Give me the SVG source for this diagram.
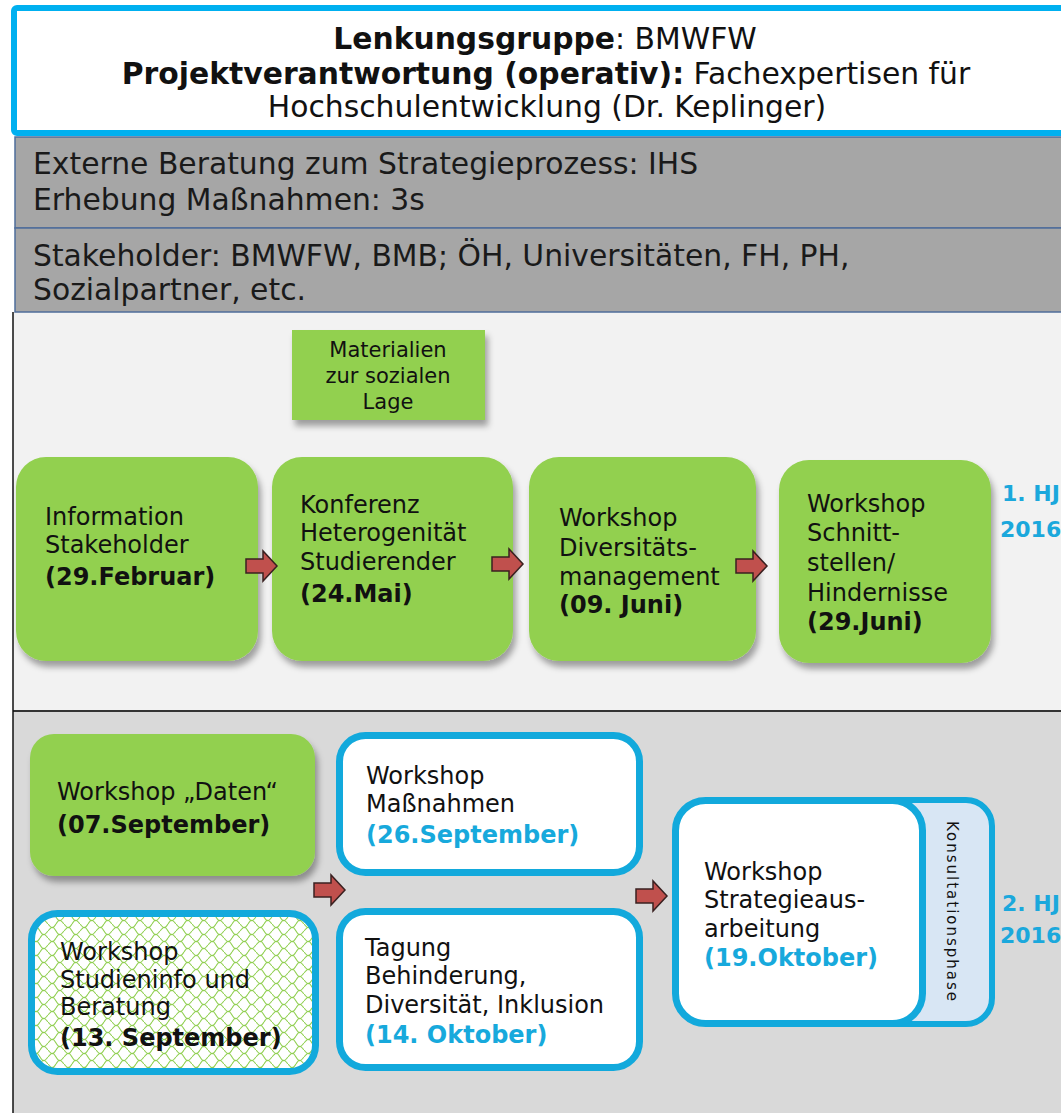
<svg xmlns="http://www.w3.org/2000/svg" width="1061" height="1113" viewBox="0 0 1061 1113">
<style>
text{font-family:"DejaVu Sans","Verdana",sans-serif;fill:#111}
.b{font-weight:bold}
.t{font-size:24px}
.hdr{font-size:29.8px}
.band{font-size:29.8px;fill:#1a1a1a}
.blue{fill:#17A9DC;font-weight:bold}
.green{fill:#92D050}
.wbox{fill:#fff;stroke:#12A9DC;stroke-width:7}
.arrow{fill:#C0504D;stroke:#3a2020;stroke-width:1.5;stroke-linejoin:miter}
.hj{font-size:22px;font-weight:bold;fill:#1BA8DC}
</style>
<defs>
<filter id="sh" x="-10%" y="-10%" width="130%" height="130%">
<feDropShadow dx="3" dy="6" stdDeviation="3" flood-color="#000" flood-opacity="0.35"/>
</filter>
<pattern id="hatch" width="16" height="14" patternUnits="userSpaceOnUse">
<rect width="16" height="14" fill="#fff"/>
<path d="M0,7 C4,2 5,2 8,7 C11,12 12,12 16,7" fill="none" stroke="#8FCF4E" stroke-width="1.1"/>
<path d="M0,0 C4,5 5,5 8,0 M8,14 C11,9 12,9 16,14" fill="none" stroke="#8FCF4E" stroke-width="1.1"/>
</pattern>
<path id="arr" d="M0,8 H17 V0 L31,15 L17,30 V22 H0 Z"/>
</defs>

<!-- background panels -->
<rect x="0" y="0" width="1061" height="1113" fill="#fff"/>
<rect x="13" y="312" width="1050" height="399" fill="#F2F2F2"/>
<rect x="13" y="711" width="1050" height="402" fill="#D9D9D9"/>
<line x1="13" y1="711" x2="1061" y2="711" stroke="#333" stroke-width="2"/>
<line x1="13" y1="312" x2="13" y2="1113" stroke="#111" stroke-width="1.5"/>

<!-- header -->
<g id="header">
<rect x="14" y="8" width="1060" height="125" rx="3" fill="#fff" stroke="#00B0F0" stroke-width="6"/>
<text class="hdr" x="545" y="49" text-anchor="middle"><tspan class="b">Lenkungsgruppe</tspan>:  BMWFW</text>
<text class="hdr" x="546" y="84" text-anchor="middle"><tspan class="b">Projektverantwortung (operativ):</tspan> Fachexpertisen für</text>
<text class="hdr" x="547" y="117" text-anchor="middle">Hochschulentwicklung (Dr. Keplinger)</text>
</g>

<g id="band1">
<rect x="15" y="137" width="1050" height="91" fill="#A6A6A6" stroke="#4F6D9A" stroke-width="1.5"/>
<text class="band" x="33" y="174">Externe Beratung zum Strategieprozess: IHS</text>
<text class="band" x="33" y="210">Erhebung Maßnahmen: 3s</text>
</g>
<g id="band2">
<rect x="15" y="228" width="1050" height="84" fill="#A6A6A6" stroke="#4F6D9A" stroke-width="1.5"/>
<text class="band" x="33" y="266">Stakeholder: BMWFW, BMB; ÖH, Universitäten, FH, PH,</text>
<text class="band" x="33" y="300">Sozialpartner, etc.</text>
</g>

<!-- row 1 -->
<g id="materialien">
<rect x="292" y="330" width="193" height="90" class="green" filter="url(#sh)"/>
<text x="388" y="357" font-size="21" text-anchor="middle">Materialien</text>
<text x="388" y="383" font-size="21" text-anchor="middle">zur sozialen</text>
<text x="388" y="409" font-size="21" text-anchor="middle">Lage</text>
</g>

<g id="info">
<rect x="16" y="457" width="242" height="204" rx="30" class="green" filter="url(#sh)"/>
<text class="t" x="45" y="525">Information</text>
<text class="t" x="45" y="553">Stakeholder</text>
<text class="t b" x="45" y="585">(29.Februar)</text>
</g>
<g id="konferenz">
<rect x="272" y="457" width="241" height="204" rx="30" class="green" filter="url(#sh)"/>
<text class="t" x="300" y="513">Konferenz</text>
<text class="t" x="300" y="541">Heterogenität</text>
<text class="t" x="300" y="570">Studierender</text>
<text class="t b" x="300" y="602">(24.Mai)</text>
</g>
<g id="diversitaet">
<rect x="529" y="457" width="227" height="204" rx="30" class="green" filter="url(#sh)"/>
<text class="t" x="559" y="526">Workshop</text>
<text class="t" x="559" y="556">Diversitäts-</text>
<text class="t" x="559" y="585">management</text>
<text class="t b" x="559" y="613">(09. Juni)</text>
</g>
<g id="schnittstellen">
<rect x="779" y="460" width="212" height="203" rx="30" class="green" filter="url(#sh)"/>
<text class="t" x="807" y="512">Workshop</text>
<text class="t" x="807" y="541">Schnitt-</text>
<text class="t" x="807" y="571">stellen/</text>
<text class="t" x="807" y="601">Hindernisse</text>
<text class="t b" x="807" y="630">(29.Juni)</text>
</g>
<g id="hj1">
<text class="hj" x="1002" y="501">1. HJ</text>
<text class="hj" x="1000" y="537">2016</text>
</g>

<!-- row 2 -->
<g id="daten">
<rect x="30" y="734" width="285" height="142" rx="24" class="green" filter="url(#sh)"/>
<text class="t" x="57" y="800">Workshop „Daten“</text>
<text class="t b" x="57" y="833">(07.September)</text>
</g>
<g id="studieninfo">
<rect x="31.5" y="913.5" width="284" height="158" rx="26" fill="url(#hatch)" stroke="#12A9DC" stroke-width="7"/>
<text class="t" x="60" y="960">Workshop</text>
<text class="t" x="60" y="988">Studieninfo und</text>
<text class="t" x="60" y="1015">Beratung</text>
<text class="t b" x="60" y="1046">(13. September)</text>
</g>
<g id="massnahmen">
<rect x="339.5" y="735.5" width="300" height="137" rx="26" class="wbox"/>
<text class="t" x="366" y="784">Workshop</text>
<text class="t" x="366" y="812">Maßnahmen</text>
<text class="t blue" x="366" y="843">(26.September)</text>
</g>
<g id="tagung">
<rect x="339.5" y="911.5" width="300" height="156" rx="26" class="wbox"/>
<text class="t" x="365" y="956">Tagung</text>
<text class="t" x="365" y="984">Behinderung,</text>
<text class="t" x="365" y="1013">Diversität, Inklusion</text>
<text class="t blue" x="365" y="1043">(14. Oktober)</text>
</g>
<g id="strategie">
<rect x="866" y="800" width="126" height="224" rx="26" fill="#D8E6F4" stroke="#12A9DC" stroke-width="6"/>
<text transform="translate(947,912) rotate(90)" font-size="15" letter-spacing="2" text-anchor="middle">Konsultationsphase</text>
<rect x="675.5" y="800.5" width="247" height="223" rx="30" class="wbox"/>
<text class="t" x="704" y="880">Workshop</text>
<text class="t" x="704" y="908">Strategieaus-</text>
<text class="t" x="704" y="937">arbeitung</text>
<text class="t blue" x="704" y="966">(19.Oktober)</text>
</g>
<g id="hj2">
<text class="hj" x="1002" y="911">2. HJ</text>
<text class="hj" x="1000" y="943">2016</text>
</g>

<!-- connectors -->
<g id="connectors">
<use href="#arr" class="arrow" transform="translate(246,551)"/>
<use href="#arr" class="arrow" transform="translate(492,549)"/>
<use href="#arr" class="arrow" transform="translate(736,551)"/>
<use href="#arr" class="arrow" transform="translate(314,875)"/>
<use href="#arr" class="arrow" transform="translate(636,881)"/>
</g>
</svg>
